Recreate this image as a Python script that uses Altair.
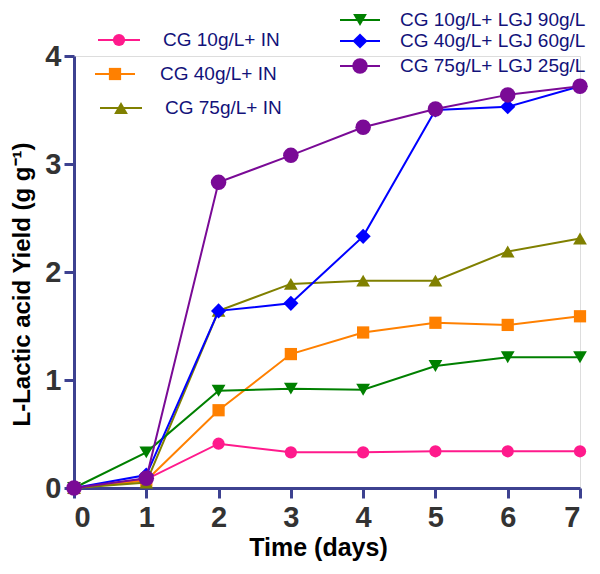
import altair as alt
import pandas as pd

days = [0, 1, 2, 3, 4, 5, 6, 7]
series_names = [
    "CG 10g/L+ IN",
    "CG 40g/L+ IN",
    "CG 75g/L+ IN",
    "CG 10g/L+ LGJ 90g/L",
    "CG 40g/L+ LGJ 60g/L",
    "CG 75g/L+ LGJ 25g/L",
]
cg10_in = [0, 0.08, 0.41, 0.33, 0.33, 0.34, 0.34, 0.34]
cg40_in = [0, 0.07, 0.72, 1.24, 1.44, 1.53, 1.51, 1.59]
cg75_in = [0, 0.05, 1.64, 1.89, 1.92, 1.92, 2.19, 2.31]
cg10_lgj = [0, 0.33, 0.90, 0.92, 0.91, 1.13, 1.21, 1.21]
cg40_lgj = [0, 0.12, 1.64, 1.71, 2.33, 3.50, 3.53, 3.72]
cg75_lgj = [0, 0.09, 2.83, 3.08, 3.34, 3.51, 3.64, 3.72]
all_values = [cg10_in, cg40_in, cg75_in, cg10_lgj, cg40_lgj, cg75_lgj]

colors = ["#ff1a8c", "#ff8000", "#808000", "#008000", "#0000ff", "#7a0a96"]
shapes = ["circle", "square", "triangle-up", "triangle-down", "diamond", "circle"]
sizes = [150, 150, 190, 190, 230, 240]

# legend placement (plot-area pixel coords): x0, x1, marker x, y, text x
legend_pos = [
    (24, 66, 45, -16, 89),
    (21, 61, 41, 18, 86),
    (26, 68, 47, 52, 91),
    (266, 306, 286, -36, 326),
    (266, 306, 286, -15, 326),
    (266, 306, 286, 10, 326),
]

W, H = 506, 432
FONT = "Liberation Sans"
AXIS_COLOR = "#3d4190"

xscale = alt.Scale(domain=[0, 7], nice=False)
yscale = alt.Scale(domain=[0, 4], nice=False)

x_axis = alt.Axis(
    values=days,
    format="d",
    domainColor=AXIS_COLOR,
    domainWidth=3,
    tickColor=AXIS_COLOR,
    tickWidth=3,
    tickSize=10,
    grid=False,
    labelFont=FONT,
    labelFontSize=29,
    labelFontWeight="bold",
    labelColor="#333333",
    labelPadding=5,
    titleFont=FONT,
    titleFontSize=25,
    titleFontWeight="bold",
    titleColor="#000000",
    titlePadding=3,
    titleX=244,
)
y_axis = alt.Axis(
    values=[0, 1, 2, 3, 4],
    format="d",
    domainColor=AXIS_COLOR,
    domainWidth=3,
    tickColor=AXIS_COLOR,
    tickWidth=3,
    tickSize=10,
    grid=False,
    labelFont=FONT,
    labelFontSize=29,
    labelFontWeight="bold",
    labelColor="#333333",
    labelPadding=3,
    titleFont=FONT,
    titleFontSize=24,
    titleFontWeight="bold",
    titleColor="#000000",
    titlePadding=10,
    titleY=228,
)

x_enc = alt.X("day:Q", scale=xscale, title="Time (days)", axis=x_axis)
y_enc = alt.Y("value:Q", scale=yscale, title="L-Lactic acid Yield (g g\u207b\u00b9)", axis=y_axis)

layers = []
for i, name in enumerate(series_names):
    df = pd.DataFrame({"day": days, "value": all_values[i], "series": name})
    base = alt.Chart(df)
    line = base.mark_line(color=colors[i], strokeWidth=2).encode(x=x_enc, y=y_enc)
    pts = base.mark_point(
        shape=shapes[i], filled=True, size=sizes[i], color=colors[i], opacity=1
    ).encode(x=x_enc, y=y_enc)
    layers += [line, pts]

one = pd.DataFrame({"k": [0]})
legend_layers = []
for i, name in enumerate(series_names):
    x0, x1, mx, ly, tx = legend_pos[i]
    lb = alt.Chart(one)
    legend_layers.append(
        lb.mark_rule(color=colors[i], strokeWidth=2).encode(
            x=alt.value(x0), x2=alt.value(x1), y=alt.value(ly)
        )
    )
    legend_layers.append(
        lb.mark_point(
            shape=shapes[i], filled=True, size=sizes[i], color=colors[i], opacity=1
        ).encode(x=alt.value(mx), y=alt.value(ly))
    )
    legend_layers.append(
        lb.mark_text(
            text=name,
            font=FONT,
            fontSize=19,
            color="#12127a",
            align="left",
            baseline="middle",
        ).encode(x=alt.value(tx), y=alt.value(ly))
    )

chart = (
    alt.layer(*layers, *legend_layers)
    .properties(
        width=W,
        height=H,
        autosize=alt.AutoSizeParams(type="none"),
        padding={"left": 66, "top": 48, "right": 12, "bottom": 78},
    )
    .configure_view(strokeWidth=0, stroke="transparent")
    .configure(background="white")
)

chart.save("out.html", embed_options={"renderer": "svg", "actions": False})
